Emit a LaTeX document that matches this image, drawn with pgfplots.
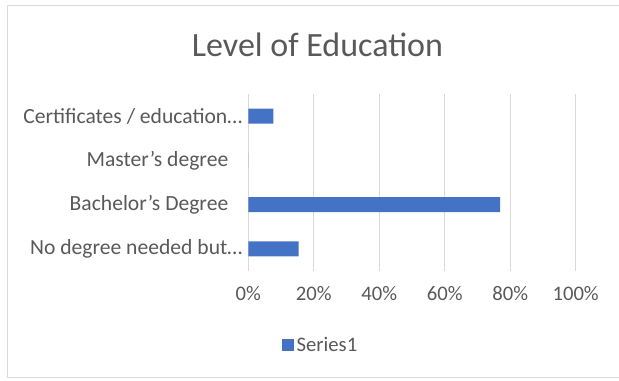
\documentclass[border=0pt]{standalone}
\usepackage{pgfplots}
\pgfplotsset{compat=1.18}
\usepackage{fontspec}
\setmainfont{Carlito}
\definecolor{xlblue}{HTML}{4472C4}
\definecolor{xltext}{HTML}{595959}
\definecolor{xlgrid}{HTML}{D9D9D9}
\newcommand{\lblfont}{\fontsize{15.5}{18}\selectfont}
\newcommand{\catfont}{\fontsize{16.2}{18}\selectfont}
\begin{document}
\begin{tikzpicture}
\useasboundingbox (0pt,0pt) rectangle (464.25pt,285.75pt);
\draw[xlgrid, line width=0.75pt] (464.25pt,281.25pt) -- (5.25pt,281.25pt) -- (5.25pt,2.25pt) -- (464.25pt,2.25pt);
\node[text=xltext, font=\fontsize{25.5}{28}\selectfont] at (238.1pt,252pt) {Level of Education};
\begin{axis}[
  at={(186.2pt,82.5pt)}, anchor=south west,
  scale only axis, width=245.55pt, height=132.75pt,
  xbar, bar width=0.34,
  xmin=0, xmax=100, ymin=-0.5, ymax=3.5,
  axis line style={draw=none},
  major tick length=0pt,
  xmajorgrids, major grid style={xlgrid, line width=0.75pt},
  xtick={0,20,40,60,80,100},
  xticklabel={\pgfmathprintnumber{\tick}\%},
  /pgf/number format/assume math mode=true,
  ytick={0,1,2,3},
  yticklabels={No degree needed but\dots, Bachelor's Degree\hspace*{10.5pt}, Master's degree\hspace*{10.5pt}, Certificates / education\dots},
  ticklabel style={text=xltext, font=\lblfont},
  xticklabel style={yshift=-8pt},
  yticklabel style={xshift=-1pt, font=\catfont},
  legend style={at={(0.222,-0.418)}, anchor=center, draw=none, fill=none, font=\lblfont, text=xltext, inner sep=0pt},
  legend image code/.code={\fill[xlblue] (0pt,-4.5pt) rectangle (9pt,4.5pt);},
]
\addplot[fill=xlblue, draw=none] coordinates {(15.38,0) (76.92,1) (0,2) (7.69,3)};
\legend{Series1}
\end{axis}
\end{tikzpicture}
\end{document}
